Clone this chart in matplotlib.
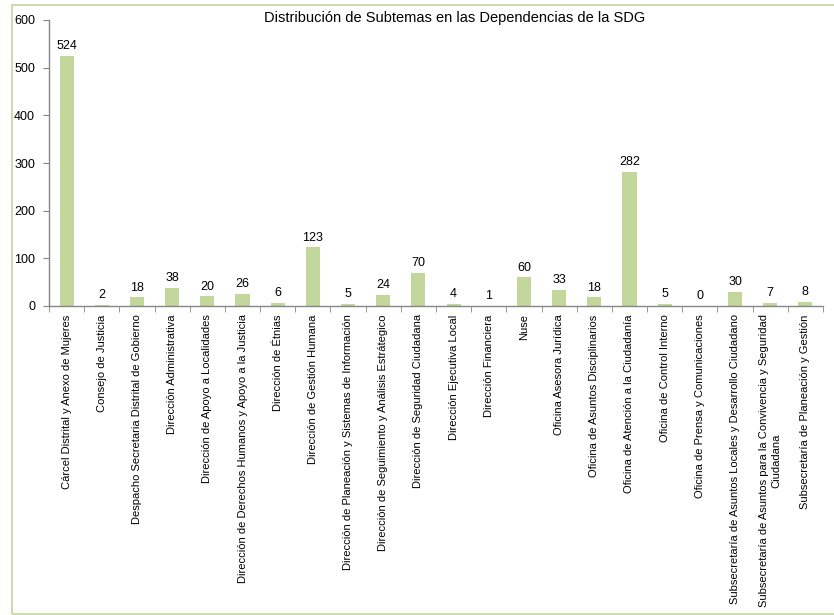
import matplotlib
matplotlib.use("Agg")
import matplotlib.pyplot as plt
from matplotlib.patches import Rectangle

categories = [
    "Cárcel Distrital y Anexo de Mujeres",
    "Consejo de Justicia",
    "Despacho Secretaria Distrital de Gobierno",
    "Dirección Administrativa",
    "Dirección de Apoyo a Localidades",
    "Dirección de Derechos Humanos y Apoyo a la Justicia",
    "Dirección de Étnias",
    "Dirección de Gestión Humana",
    "Dirección de Planeación y Sistemas de Información",
    "Dirección de Seguimiento y Análisis Estrátegico",
    "Dirección de Seguridad Ciudadana",
    "Dirección Ejecutiva Local",
    "Dirección Financiera",
    "Nuse",
    "Oficina Asesora Jurídica",
    "Oficina de Asuntos Disciplinarios",
    "Oficina de Atención a la Ciudadanía",
    "Oficina de Control Interno",
    "Oficina de Prensa y Comunicaciones",
    "Subsecretaría de Asuntos Locales y Desarrollo Ciudadano",
    "Subsecretaría de Asuntos para la Convivencia y Seguridad\nCiudadana",
    "Subsecretaría de Planeación y Gestión",
]
values = [524, 2, 18, 38, 20, 26, 6, 123, 5, 24, 70, 4, 1, 60, 33, 18, 282, 5, 0, 30, 7, 8]
title = "Distribución de Subtemas en las Dependencias de la SDG"
yticks = [0, 100, 200, 300, 400, 500, 600]

plt.rcParams['font.family'] = ['Liberation Sans', 'DejaVu Sans']

W, H = 834, 615
fig = plt.figure(figsize=(W / 100, H / 100), dpi=100)
ax = fig.add_axes([49 / W, 1 - 306 / H, (823 - 49) / W, (306 - 20) / H])

bar_color = "#c3d69b"
axis_color = "#868686"
n = len(categories)
x = list(range(n))
ax.bar(x, values, width=0.4, color=bar_color, zorder=2)
for xi, v in zip(x, values):
    ax.text(xi, v + 8, str(v), ha="center", va="bottom", fontsize=9, color="#000000")

ax.set_xlim(-0.5, n - 0.5)
ax.set_ylim(0, 600)
ax.set_yticks(yticks)
ax.set_yticklabels([str(t) for t in yticks], fontsize=9)
ax.set_xticks(x)
ax.set_xticklabels(categories, rotation=90, fontsize=8, va="top", ha="center",
                   multialignment="center")
ax.tick_params(axis="x", length=0, pad=6)
ax.set_xticks([i - 0.5 for i in range(n + 1)], minor=True)
ax.tick_params(axis="x", which="minor", length=4, color=axis_color, direction="out")
ax.tick_params(axis="y", length=4, color=axis_color, direction="out", pad=6)

for s in ["top", "right"]:
    ax.spines[s].set_visible(False)
for s in ["left", "bottom"]:
    ax.spines[s].set_color(axis_color)
    ax.spines[s].set_linewidth(1)

fig.text(455 / W, 1 - 18 / H, title, ha="center", va="center", fontsize=10.5)

# chart area border
border = Rectangle((12 / W, 1.5 / H), (W - 12) / W + 0.01, (613 - 4.5) / H, transform=fig.transFigure,
                   fill=False, edgecolor="#c3d69b", linewidth=1.2)
fig.patches.append(border)

fig.savefig("out.png", dpi=100)
